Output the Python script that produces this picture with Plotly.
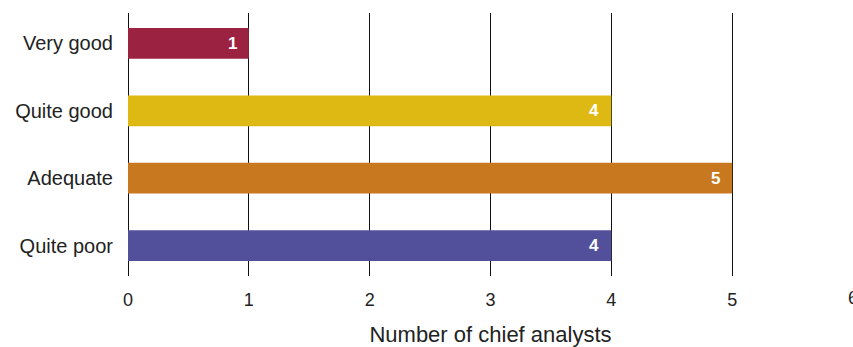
import plotly.graph_objects as go

categories = ["Very good", "Quite good", "Adequate", "Quite poor"]
counts = [1, 4, 5, 4]
colors = ["#9c2241", "#dfb913", "#c8781f", "#52509a"]
x_ticks = [0, 1, 2, 3, 4, 5, 6]

FONT = "Liberation Sans, Arial, Helvetica, sans-serif"
TEXT = "#222222"

fig = go.Figure(
    go.Bar(
        x=counts,
        y=categories,
        orientation="h",
        marker=dict(color=colors, line=dict(width=0)),
        width=0.456,
        hoverinfo="x+y",
    )
)

# value labels sitting just inside the end of each bar
for cat, val in zip(categories, counts):
    fig.add_annotation(
        x=val, y=cat, text=f"<b>{val}</b>", showarrow=False,
        xanchor="right", yanchor="middle", xshift=-10, yshift=0,
        font=dict(family=FONT, size=17, color="white"),
    )

# the last tick label sits on the right edge of the page, where plotly
# would otherwise drop it
fig.add_annotation(
    x=x_ticks[-1], y=0, xref="x", yref="paper", text=str(x_ticks[-1]),
    showarrow=False, xanchor="center", yanchor="top", yshift=-10,
    font=dict(family=FONT, size=18, color=TEXT),
)

fig.update_layout(
    width=853, height=347,
    margin=dict(l=128, r=0, t=13, b=69),
    paper_bgcolor="white", plot_bgcolor="white",
    showlegend=False,
    font=dict(family=FONT, color=TEXT),
    xaxis=dict(
        range=[0, 6], tickvals=x_ticks,
        showgrid=True, gridcolor="#111111", gridwidth=1,
        zeroline=True, zerolinecolor="#111111", zerolinewidth=1,
        showline=False, ticks="", ticklabelstandoff=11,
        tickfont=dict(family=FONT, size=18, color=TEXT),
        title=dict(text="Number of chief analysts", standoff=22,
                   font=dict(family=FONT, size=22, color=TEXT)),
        fixedrange=True,
    ),
    yaxis=dict(
        range=[3.45, -0.45], type="category",
        categoryorder="array", categoryarray=categories,
        showgrid=False, zeroline=False, showline=False,
        ticks="", ticklabelstandoff=14,
        tickfont=dict(family=FONT, size=20, color=TEXT),
        fixedrange=True,
    ),
)

fig.write_html("out.html")
